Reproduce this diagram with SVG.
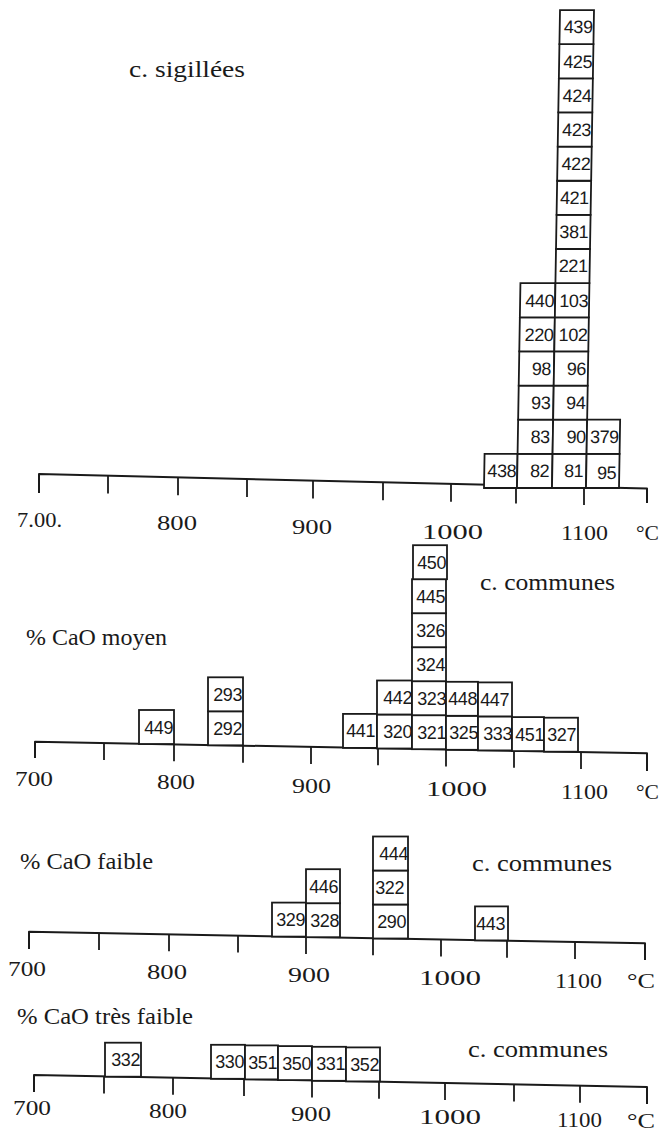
<svg xmlns="http://www.w3.org/2000/svg" width="661" height="1135" viewBox="0 0 661 1135">
<style>
.b{fill:#fff;stroke:#1a1a1a;stroke-width:1.8}
.n{font-family:'Liberation Sans',Arial,sans-serif;font-size:18px;letter-spacing:-0.4px;text-anchor:end;fill:#1a1a1a}
.ax{fill:none;stroke:#1a1a1a;stroke-width:2;stroke-linejoin:round}
.tk{fill:none;stroke:#1a1a1a;stroke-width:1.8}
.lb{font-family:'Liberation Serif','Times New Roman','DejaVu Serif',serif;font-size:22px;fill:#1a1a1a;text-anchor:middle}
.tt{font-family:'Liberation Serif','Times New Roman','DejaVu Serif',serif;font-size:24px;fill:#1a1a1a}
</style>
<rect width="661" height="1135" fill="#fff"/>

<!-- Section 1: c. sigillées -->
<g id="section1">
<text class="tt" x="129" y="77" textLength="116" lengthAdjust="spacingAndGlyphs">c. sigillées</text>
<g id="axis1">
<path class="ax" d="M39,493 L39,474 L647,488.5 L647,503"/>
<path class="tk" d="M108,475.6v18 M178,477.3v18 M247,479v18 M313,480.5v18 M383,482.2v18 M451,483.8v18 M516,485.4v18 M584,487v18"/>
<text class="lb" x="39.5" y="527" textLength="45" lengthAdjust="spacingAndGlyphs">7.00.</text>
<text class="lb" x="177" y="530" textLength="40" lengthAdjust="spacingAndGlyphs">800</text>
<text class="lb" x="312" y="534" textLength="40" lengthAdjust="spacingAndGlyphs">900</text>
<text class="lb" x="452.5" y="539" textLength="61" lengthAdjust="spacingAndGlyphs">1000</text>
<text class="lb" x="584.5" y="540" textLength="47" lengthAdjust="spacingAndGlyphs">1100</text>
<text class="lb" x="647.5" y="540" textLength="23" lengthAdjust="spacingAndGlyphs">°C</text>
</g>
<g id="hist1" transform="translate(0,488) skewX(-0.96) translate(0,-488)">
<g id="n438"><rect class="b" x="484" y="453.86" width="33" height="34.14"/><text class="n" x="516" y="477.4">438</text></g>
<g id="n82"><rect class="b" x="517" y="453.86" width="35" height="34.14"/><text class="n" x="549" y="477.4">82</text></g>
<g id="n83"><rect class="b" x="517" y="419.72" width="35" height="34.14"/><text class="n" x="549" y="443.2">83</text></g>
<g id="n93"><rect class="b" x="517" y="385.58" width="35" height="34.14"/><text class="n" x="549" y="409.1">93</text></g>
<g id="n98"><rect class="b" x="517" y="351.44" width="35" height="34.14"/><text class="n" x="549" y="374.9">98</text></g>
<g id="n220"><rect class="b" x="517" y="317.3" width="35" height="34.14"/><text class="n" x="551" y="340.8">220</text></g>
<g id="n440"><rect class="b" x="517" y="283.16" width="35" height="34.14"/><text class="n" x="551" y="306.7">440</text></g>
<g id="n81"><rect class="b" x="552" y="453.86" width="34" height="34.14"/><text class="n" x="583" y="477.4">81</text></g>
<g id="n90"><rect class="b" x="552" y="419.72" width="34" height="34.14"/><text class="n" x="585" y="443.2">90</text></g>
<g id="n94"><rect class="b" x="552" y="385.58" width="34" height="34.14"/><text class="n" x="584" y="409.1">94</text></g>
<g id="n96"><rect class="b" x="552" y="351.44" width="34" height="34.14"/><text class="n" x="584" y="374.9">96</text></g>
<g id="n102"><rect class="b" x="552" y="317.3" width="34" height="34.14"/><text class="n" x="585" y="340.8">102</text></g>
<g id="n103"><rect class="b" x="552" y="283.16" width="34" height="34.14"/><text class="n" x="585" y="306.7">103</text></g>
<g id="n221"><rect class="b" x="552" y="249.02" width="34" height="34.14"/><text class="n" x="584" y="272.5">221</text></g>
<g id="n381"><rect class="b" x="552" y="214.88" width="34" height="34.14"/><text class="n" x="584" y="238.4">381</text></g>
<g id="n421"><rect class="b" x="552" y="180.74" width="34" height="34.14"/><text class="n" x="584" y="204.2">421</text></g>
<g id="n422"><rect class="b" x="552" y="146.6" width="34" height="34.14"/><text class="n" x="585" y="170.1">422</text></g>
<g id="n423"><rect class="b" x="552" y="112.46" width="34" height="34.14"/><text class="n" x="585" y="136">423</text></g>
<g id="n424"><rect class="b" x="552" y="78.32" width="34" height="34.14"/><text class="n" x="585" y="101.8">424</text></g>
<g id="n425"><rect class="b" x="552" y="44.18" width="34" height="34.14"/><text class="n" x="585" y="67.7">425</text></g>
<g id="n439"><rect class="b" x="552" y="10.04" width="34" height="34.14"/><text class="n" x="585" y="33.5">439</text></g>
<g id="n95"><rect class="b" x="586" y="453.86" width="33" height="34.14"/><text class="n" x="616" y="479">95</text></g>
<g id="n379"><rect class="b" x="586" y="419.72" width="33" height="34.14"/><text class="n" x="618" y="443.2">379</text></g>
</g>
</g>

<!-- Section 2: % CaO moyen -->
<g id="section2">
<text class="tt" x="26" y="645" textLength="141" lengthAdjust="spacingAndGlyphs">% CaO moyen</text>
<text class="tt" x="480" y="590" textLength="135" lengthAdjust="spacingAndGlyphs">c. communes</text>
<g id="axis2">
<path class="ax" d="M35,758 L35,741.7 L647,753.3 L647,771"/>
<path class="tk" d="M104,743v17 M174,744.3v17 M243,745.7v17 M311,746.9v17 M378,748.2v17 M446,749.5v17 M514,750.8v17 M581,752.1v17"/>
<text class="lb" x="34" y="786" textLength="38" lengthAdjust="spacingAndGlyphs">700</text>
<text class="lb" x="176" y="789" textLength="38" lengthAdjust="spacingAndGlyphs">800</text>
<text class="lb" x="311.5" y="793" textLength="39" lengthAdjust="spacingAndGlyphs">900</text>
<text class="lb" x="456.5" y="796" textLength="61" lengthAdjust="spacingAndGlyphs">1000</text>
<text class="lb" x="584.5" y="799" textLength="47" lengthAdjust="spacingAndGlyphs">1100</text>
<text class="lb" x="647.5" y="799" textLength="23" lengthAdjust="spacingAndGlyphs">°C</text>
</g>
<g id="hist2">
<g id="n449"><rect class="b" x="139" y="710" width="35" height="34"/><text class="n" x="173" y="733.5">449</text></g>
<g id="n292"><rect class="b" x="208" y="711.3" width="35" height="34"/><text class="n" x="242" y="734.8">292</text></g>
<g id="n293"><rect class="b" x="208" y="677.3" width="35" height="34"/><text class="n" x="242" y="700.8">293</text></g>
<g id="n441"><rect class="b" x="343" y="713.9" width="34" height="34"/><text class="n" x="375" y="737.4">441</text></g>
<g id="n320"><rect class="b" x="377" y="714.5" width="35" height="34"/><text class="n" x="412" y="738">320</text></g>
<g id="n442"><rect class="b" x="377" y="680.5" width="35" height="34"/><text class="n" x="412" y="704">442</text></g>
<g id="n321"><rect class="b" x="412" y="715.2" width="34" height="34"/><text class="n" x="446" y="738.7">321</text></g>
<g id="n323"><rect class="b" x="412" y="681.2" width="34" height="34"/><text class="n" x="446" y="704.7">323</text></g>
<g id="n324"><rect class="b" x="412" y="647.2" width="34" height="34"/><text class="n" x="445" y="670.7">324</text></g>
<g id="n326"><rect class="b" x="412" y="613.2" width="34" height="34"/><text class="n" x="445" y="636.7">326</text></g>
<g id="n445"><rect class="b" x="412" y="579.2" width="34" height="34"/><text class="n" x="445" y="602.7">445</text></g>
<g id="n450"><rect class="b" x="413" y="545.2" width="34" height="34"/><text class="n" x="446" y="568.7">450</text></g>
<g id="n325"><rect class="b" x="446" y="715.8" width="32" height="34"/><text class="n" x="478" y="739.3">325</text></g>
<g id="n448"><rect class="b" x="446" y="681.8" width="32" height="34"/><text class="n" x="477" y="705.3">448</text></g>
<g id="n333"><rect class="b" x="478" y="716.4" width="34" height="34"/><text class="n" x="512" y="739.9">333</text></g>
<g id="n447"><rect class="b" x="478" y="682.4" width="34" height="34"/><text class="n" x="509" y="705.9">447</text></g>
<g id="n451"><rect class="b" x="512" y="717.1" width="32" height="34"/><text class="n" x="544" y="740.6">451</text></g>
<g id="n327"><rect class="b" x="544" y="717.7" width="34" height="34"/><text class="n" x="576" y="741.2">327</text></g>
</g>
</g>

<!-- Section 3: % CaO faible -->
<g id="section3">
<text class="tt" x="20" y="869" textLength="133" lengthAdjust="spacingAndGlyphs">% CaO faible</text>
<text class="tt" x="472" y="871" textLength="140" lengthAdjust="spacingAndGlyphs">c. communes</text>
<g id="axis3">
<path class="ax" d="M29,949 L29,931.7 L645,943.3 L645,960"/>
<path class="tk" d="M99,933v17 M169,934.3v17 M238,935.6v17 M306,936.9v17 M373,938.2v17 M441,939.4v17 M507,940.7v17 M575,942v17"/>
<text class="lb" x="27" y="976" textLength="38" lengthAdjust="spacingAndGlyphs">700</text>
<text class="lb" x="167" y="979" textLength="40" lengthAdjust="spacingAndGlyphs">800</text>
<text class="lb" x="309" y="982" textLength="42" lengthAdjust="spacingAndGlyphs">900</text>
<text class="lb" x="450" y="985" textLength="62" lengthAdjust="spacingAndGlyphs">1000</text>
<text class="lb" x="578.5" y="988" textLength="47" lengthAdjust="spacingAndGlyphs">1100</text>
<text class="lb" x="641" y="988" textLength="28" lengthAdjust="spacingAndGlyphs">°C</text>
</g>
<g id="hist3">
<g id="n329"><rect class="b" x="272" y="902.6" width="34" height="34"/><text class="n" x="305" y="926.1">329</text></g>
<g id="n328"><rect class="b" x="306" y="903.2" width="34" height="34"/><text class="n" x="339" y="926.7">328</text></g>
<g id="n446"><rect class="b" x="306" y="869.2" width="34" height="34"/><text class="n" x="338" y="892.7">446</text></g>
<g id="n290"><rect class="b" x="373" y="904.5" width="35" height="34"/><text class="n" x="406" y="928">290</text></g>
<g id="n322"><rect class="b" x="373" y="870.5" width="35" height="34"/><text class="n" x="404" y="894">322</text></g>
<g id="n444"><rect class="b" x="373" y="836.5" width="35" height="34"/><text class="n" x="408" y="860">444</text></g>
<g id="n443"><rect class="b" x="475" y="906.4" width="33" height="34"/><text class="n" x="505" y="929.9">443</text></g>
</g>
</g>

<!-- Section 4: % CaO très faible -->
<g id="section4">
<text class="tt" x="17" y="1024" textLength="176" lengthAdjust="spacingAndGlyphs">% CaO très faible</text>
<text class="tt" x="468" y="1057" textLength="140" lengthAdjust="spacingAndGlyphs">c. communes</text>
<g id="axis4">
<path class="ax" d="M34,1092 L34,1075 L647,1087 L647,1104"/>
<path class="tk" d="M104,1076.4v17 M173,1077.7v17 M244,1079.1v17 M312,1080.4v17 M379,1081.8v17 M445,1083.1v17 M514,1084.4v17 M580,1085.7v17"/>
<text class="lb" x="32" y="1115" textLength="38" lengthAdjust="spacingAndGlyphs">700</text>
<text class="lb" x="168" y="1118" textLength="38" lengthAdjust="spacingAndGlyphs">800</text>
<text class="lb" x="311" y="1121" textLength="40" lengthAdjust="spacingAndGlyphs">900</text>
<text class="lb" x="450" y="1124" textLength="62" lengthAdjust="spacingAndGlyphs">1000</text>
<text class="lb" x="579.5" y="1127" textLength="45" lengthAdjust="spacingAndGlyphs">1100</text>
<text class="lb" x="641" y="1128" textLength="28" lengthAdjust="spacingAndGlyphs">°C</text>
</g>
<g id="hist4">
<g id="n332"><rect class="b" x="105" y="1042.7" width="36" height="34"/><text class="n" x="140" y="1066.2">332</text></g>
<g id="n330"><rect class="b" x="211" y="1044.8" width="34" height="34"/><text class="n" x="244" y="1068.3">330</text></g>
<g id="n351"><rect class="b" x="245" y="1045.4" width="33" height="34"/><text class="n" x="277" y="1068.9">351</text></g>
<g id="n350"><rect class="b" x="278" y="1046.1" width="34" height="34"/><text class="n" x="311" y="1069.6">350</text></g>
<g id="n331"><rect class="b" x="312" y="1046.8" width="34" height="34"/><text class="n" x="345" y="1070.3">331</text></g>
<g id="n352"><rect class="b" x="346" y="1047.4" width="34" height="34"/><text class="n" x="379" y="1070.9">352</text></g>
</g>
</g>
</svg>
